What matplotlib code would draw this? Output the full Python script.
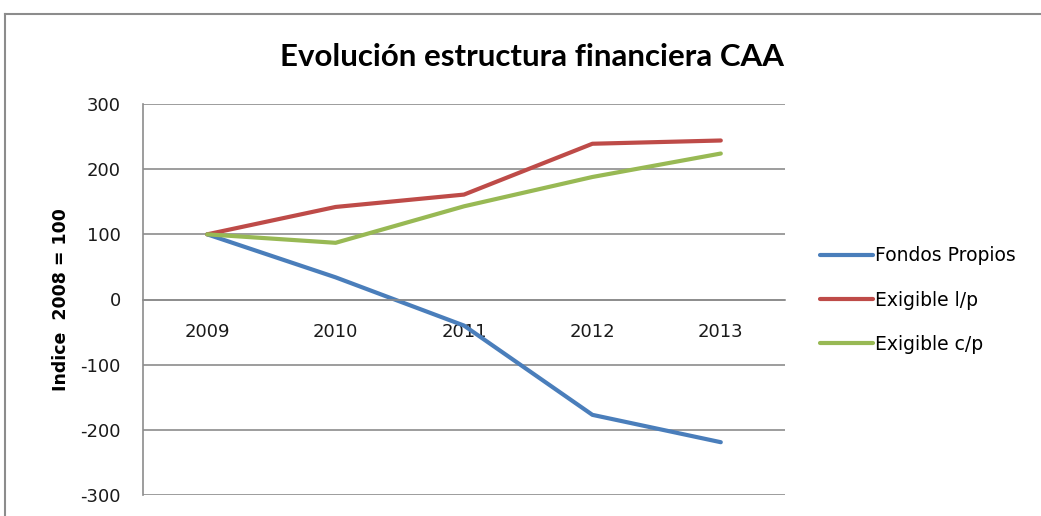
import matplotlib.pyplot as plt
from matplotlib.lines import Line2D

years = ["2009", "2010", "2011", "2012", "2013"]
fondos_propios = [100, 34, -40, -177, -219]
exigible_lp = [100, 142, 161, 239, 244]
exigible_cp = [100, 87, 143, 188, 224]

plt.rcParams['font.family'] = ['DejaVu Sans']
plt.rcParams['axes.unicode_minus'] = False

fig = plt.figure(figsize=(10.41, 5.16), dpi=100)
ax = fig.add_axes([143 / 1041, 1 - 495 / 516, (785 - 143) / 1041, (495 - 104) / 516])

x = list(range(len(years)))
ax.plot(x, fondos_propios, color='#4A7EBB', lw=3, label='Fondos Propios', solid_capstyle='round')
ax.plot(x, exigible_lp, color='#BE4B48', lw=3, label='Exigible l/p', solid_capstyle='round')
ax.plot(x, exigible_cp, color='#98B954', lw=3, label='Exigible c/p', solid_capstyle='round')

ax.set_xlim(-0.5, len(years) - 0.5)
ax.set_ylim(-300, 300)
ax.set_yticks(range(-300, 301, 100))
ax.set_xticks(x)
ax.set_xticklabels(years)

ax.yaxis.grid(True, color='#8C8C8C', lw=1.2)
ax.set_axisbelow(True)
for s in ['top', 'right']:
    ax.spines[s].set_visible(False)
ax.spines['left'].set_color('#8C8C8C')
ax.spines['left'].set_linewidth(1.2)
ax.spines['bottom'].set_position(('data', 0))
ax.spines['bottom'].set_color('#8C8C8C')
ax.spines['bottom'].set_linewidth(1.2)
ax.tick_params(axis='both', length=0, labelsize=13, colors='#1A1A1A')
ax.tick_params(axis='y', pad=16)
ax.tick_params(axis='x', pad=17)

ax.set_ylabel('Indice  2008 = 100', fontsize=12.5, fontweight='bold')
ax.yaxis.set_label_coords(-(143 - 70) / 642, 0.5)

fig.text(532 / 1041, 1 - 57 / 516, 'Evolución estructura financiera CAA', family='Lato',
         fontsize=22.5, fontweight='bold', ha='center', va='center', color='#000000')

ax.legend(loc='center left', bbox_to_anchor=(820 / 1041, 1 - 300 / 516),
          bbox_transform=fig.transFigure, frameon=False, fontsize=13.5,
          borderpad=0, borderaxespad=0, handlelength=2.8, handletextpad=0.15,
          labelspacing=1.35)

# chart border
fig.add_artist(Line2D([5 / 1041, 5 / 1041], [0, 1 - 14 / 516], color='#8C8C8C', lw=1.5))
fig.add_artist(Line2D([5 / 1041, 1], [1 - 14 / 516, 1 - 14 / 516], color='#8C8C8C', lw=1.5))

fig.savefig('out.png', dpi=100)
